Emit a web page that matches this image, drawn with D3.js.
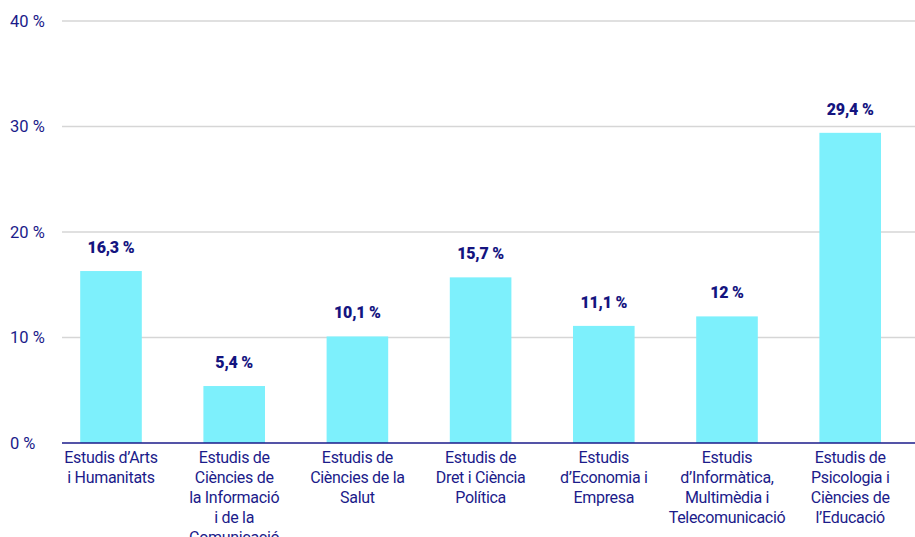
<!DOCTYPE html>
<html><head><meta charset="utf-8">
<script src="https://cdn.jsdelivr.net/npm/d3@7"></script>
<style>
html,body{margin:0;padding:0;background:#fff;}
text{font-family:Roboto,"Noto Sans",sans-serif;}
</style></head><body>
<svg id="c" width="915" height="537"></svg>
<script>
const categories = [
  "Estudis d’Arts\ni Humanitats",
  "Estudis de\nCiències de\nla Informació\ni de la\nComunicació",
  "Estudis de\nCiències de la\nSalut",
  "Estudis de\nDret i Ciència\nPolítica",
  "Estudis\nd’Economia i\nEmpresa",
  "Estudis\nd’Informàtica,\nMultimèdia i\nTelecomunicació",
  "Estudis de\nPsicologia i\nCiències de\nl’Educació"
];
const values = [16.3, 5.4, 10.1, 15.7, 11.1, 12, 29.4];
const valueLabels = ["16,3 %", "5,4 %", "10,1 %", "15,7 %", "11,1 %", "12 %", "29,4 %"];
const yTicks = [0, 10, 20, 30, 40];
const yTickLabels = ["0 %", "10 %", "20 %", "30 %", "40 %"];

const navy = "#1b1b8a";
const svg = d3.select("#c");
const x = d3.scaleBand().domain(d3.range(categories.length)).range([49.4, 911.8]).paddingInner(0.5).paddingOuter(0.25);
const y = d3.scaleLinear().domain([0, 40]).range([443, 21]);

// gridlines
svg.append("g").selectAll("line").data(yTicks.filter(d => d > 0)).join("line")
  .attr("x1", 62).attr("x2", 915)
  .attr("y1", d => y(d)).attr("y2", d => y(d))
  .attr("stroke", "#d6d6d6").attr("stroke-width", 1.3);

// y tick labels
svg.append("g").selectAll("text").data(yTicks).join("text")
  .attr("x", 10).attr("y", d => y(d)).attr("dy", "0.36em")
  .attr("fill", navy).attr("font-size", 16.5)
  .text((d, i) => yTickLabels[i]);

// bars
svg.append("g").selectAll("rect").data(values).join("rect")
  .attr("x", (d, i) => x(i)).attr("width", x.bandwidth())
  .attr("y", d => y(d)).attr("height", d => y(0) - y(d))
  .attr("fill", "#7df0fc");

// baseline
svg.append("line").attr("x1", 62).attr("x2", 915).attr("y1", y(0)).attr("y2", y(0))
  .attr("stroke", navy).attr("stroke-width", 1.5);

// value labels
svg.append("g").selectAll("text").data(values).join("text")
  .attr("x", (d, i) => x(i) + x.bandwidth() / 2).attr("y", d => y(d) - 18)
  .attr("text-anchor", "middle").attr("fill", "#14147f")
  .attr("font-size", 16).attr("font-weight", 900)
  .attr("letter-spacing", -0.2)
  .text((d, i) => valueLabels[i]);

// category labels
const cat = svg.append("g").selectAll("text").data(categories).join("text")
  .attr("x", (d, i) => x(i) + x.bandwidth() / 2).attr("y", 463)
  .attr("text-anchor", "middle").attr("fill", navy).attr("font-size", 16)
  .attr("letter-spacing", -0.3);
cat.each(function(d) {
  const t = d3.select(this);
  d.split("\n").forEach((line, j) => {
    t.append("tspan").attr("x", t.attr("x")).attr("dy", j === 0 ? 0 : 20).text(line);
  });
});
</script></body></html>
